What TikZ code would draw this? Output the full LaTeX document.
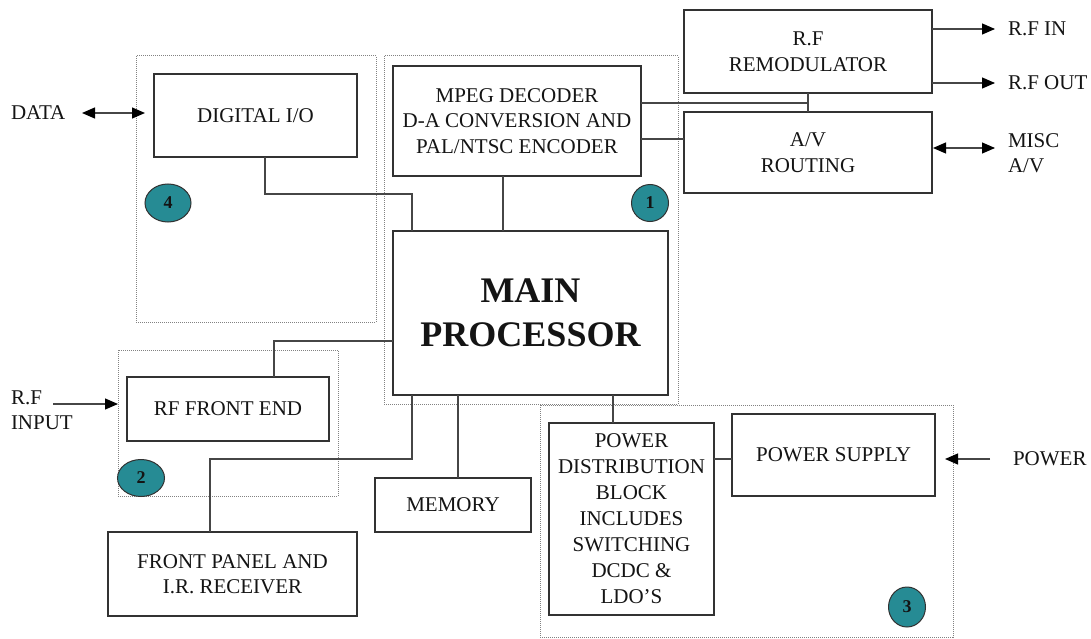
\documentclass[tikz,border=0pt]{standalone}
\usepackage{fontspec}
\setmainfont{Liberation Serif}
\usetikzlibrary{arrows.meta,shapes.geometric}
\definecolor{tealc}{RGB}{38,139,148}
\definecolor{boxc}{RGB}{50,50,50}
\definecolor{linec}{RGB}{70,70,70}
\definecolor{txt}{RGB}{20,20,20}
\definecolor{grpc}{RGB}{130,130,130}
\tikzset{
  blk/.style={draw=boxc, line width=1.3pt, inner sep=0pt, outer sep=0pt, align=center, text=txt, font=\fontsize{21}{25.5}\selectfont},
  grp/.style={draw=grpc, line width=1pt, dash pattern=on 1pt off 1pt},
  con/.style={draw=linec, line width=1.2pt},
  tip/.tip={Triangle[length=13pt,width=11pt,fill=black,color=black]},
  arr/.style={con, -tip},
  darr/.style={con, tip-tip},
  lbl/.style={inner sep=0pt, outer sep=0pt, text=txt, align=left, font=\fontsize{21}{25.5}\selectfont},
  num/.style={ellipse, draw=boxc, line width=1pt, fill=tealc, inner sep=0pt, text=txt, font=\bfseries\fontsize{18}{18}\selectfont}
}
\begin{document}
\begin{tikzpicture}[x=1pt,y=-1pt]
\fill[white] (0,0) rectangle (1091,639);
\useasboundingbox (0,0) rectangle (1091,639);

% group frames
\draw[grp] (136,56) rectangle (376,322);
\draw[grp] (384,56) rectangle (678,404);
\draw[grp] (118,350) rectangle (338,496);
\draw[grp] (540,405) rectangle (953,637);

% blocks
\node[blk, minimum width=203pt, minimum height=83pt] (dio) at (255.5,115.5) {DIGITAL I/O};
\node[blk, minimum width=248pt, minimum height=110pt] (mpeg) at (517,121) {MPEG DECODER\\D-A CONVERSION AND\\PAL/NTSC ENCODER};
\node[blk, minimum width=275pt, minimum height=164pt, font=\bfseries\fontsize{36}{43.5}\selectfont] (mp) at (530.5,313) {MAIN\\PROCESSOR};
\node[blk, minimum width=248pt, minimum height=83pt] (remod) at (808,51.5) {R.F\\REMODULATOR};
\node[blk, minimum width=248pt, minimum height=81pt] (av) at (808,152.5) {A/V\\ROUTING};
\node[blk, minimum width=202pt, minimum height=64pt] (rffe) at (228,409) {RF FRONT END};
\node[blk, minimum width=249pt, minimum height=84pt] (fp) at (232.5,574) {FRONT PANEL AND\\I.R. RECEIVER};
\node[blk, minimum width=156pt, minimum height=54pt] (mem) at (453,505) {MEMORY};
\node[blk, minimum width=165pt, minimum height=192pt, font=\fontsize{21}{26}\selectfont] (pd) at (631.5,519) {POWER\\DISTRIBUTION\\BLOCK\\INCLUDES\\SWITCHING\\DCDC \&\\LDO'S};
\node[blk, minimum width=203pt, minimum height=82pt] (ps) at (833.5,455) {POWER SUPPLY};

% numbered markers
\node[num, minimum width=37pt, minimum height=37pt] (n1) at (650,203) {1};
\node[num, minimum width=47pt, minimum height=37pt] (n2) at (141,478) {2};
\node[num, minimum width=37pt, minimum height=40pt] (n3) at (907,607) {3};
\node[num, minimum width=46pt, minimum height=38pt] (n4) at (168,203) {4};

% outside labels
\node[lbl, anchor=west] (data) at (11,113) {DATA};
\node[lbl, anchor=west] (rfin) at (1008,29) {R.F IN};
\node[lbl, anchor=west] (rfout) at (1008,83) {R.F OUT};
\node[lbl, anchor=west] (misc) at (1008,153) {MISC\\A/V};
\node[lbl, anchor=west] (rfinp) at (11,410) {R.F\\INPUT};
\node[lbl, anchor=west] (pw) at (1013,459) {POWER};

% junction coordinates
\coordinate (j1) at (808,103);
\coordinate (j2) at (660,139);
\coordinate (j3) at (274,341);
\coordinate (j4) at (412,459);
\coordinate (j5) at (210,459);
\coordinate (j6) at (458,470);
\coordinate (j7) at (613,410);
\coordinate (j8) at (720,459);
\coordinate (j9) at (265,194);
\coordinate (j10) at (412,194);
\coordinate (j11) at (503,200);
\coordinate (a1) at (945,459);
\coordinate (a2) at (145,113);
\coordinate (a3) at (82,113);
\coordinate (a4) at (118,404);
\coordinate (a5) at (53,404);
\coordinate (a6) at (995,29);
\coordinate (a7) at (995,83);
\coordinate (a8) at (995,148);
\coordinate (a9) at (933,148);
\coordinate (a10) at (990,459);

% connectors
\draw[con] (dio.south -| j9) -- (j9) -- (j10) -- (mp.north -| j10);
\draw[con] (mpeg.south -| j11) -- (mp.north -| j11);
\draw[con] (mpeg.east |- j1) -- (j1);
\draw[con] (remod.south) -- (av.north);
\draw[con] (mpeg.east |- j2) -- (av.west |- j2);
\draw[con] (rffe.north -| j3) -- (j3) -- (mp.west |- j3);
\draw[con] (mp.south -| j4) -- (j4) -- (j5) -- (fp.north -| j5);
\draw[con] (mp.south -| j6) -- (mem.north -| j6);
\draw[con] (mp.south -| j7) -- (pd.north -| j7);
\draw[con] (pd.east |- j8) -- (ps.west |- j8);

% arrows
\draw[arr] (remod.east |- a6) -- (a6);
\draw[arr] (remod.east |- a7) -- (a7);
\draw[darr] (a9) -- (a8);
\draw[darr] (a3) -- (a2);
\draw[arr] (a5) -- (a4);
\draw[arr] (a10) -- (a1);
\end{tikzpicture}
\end{document}
